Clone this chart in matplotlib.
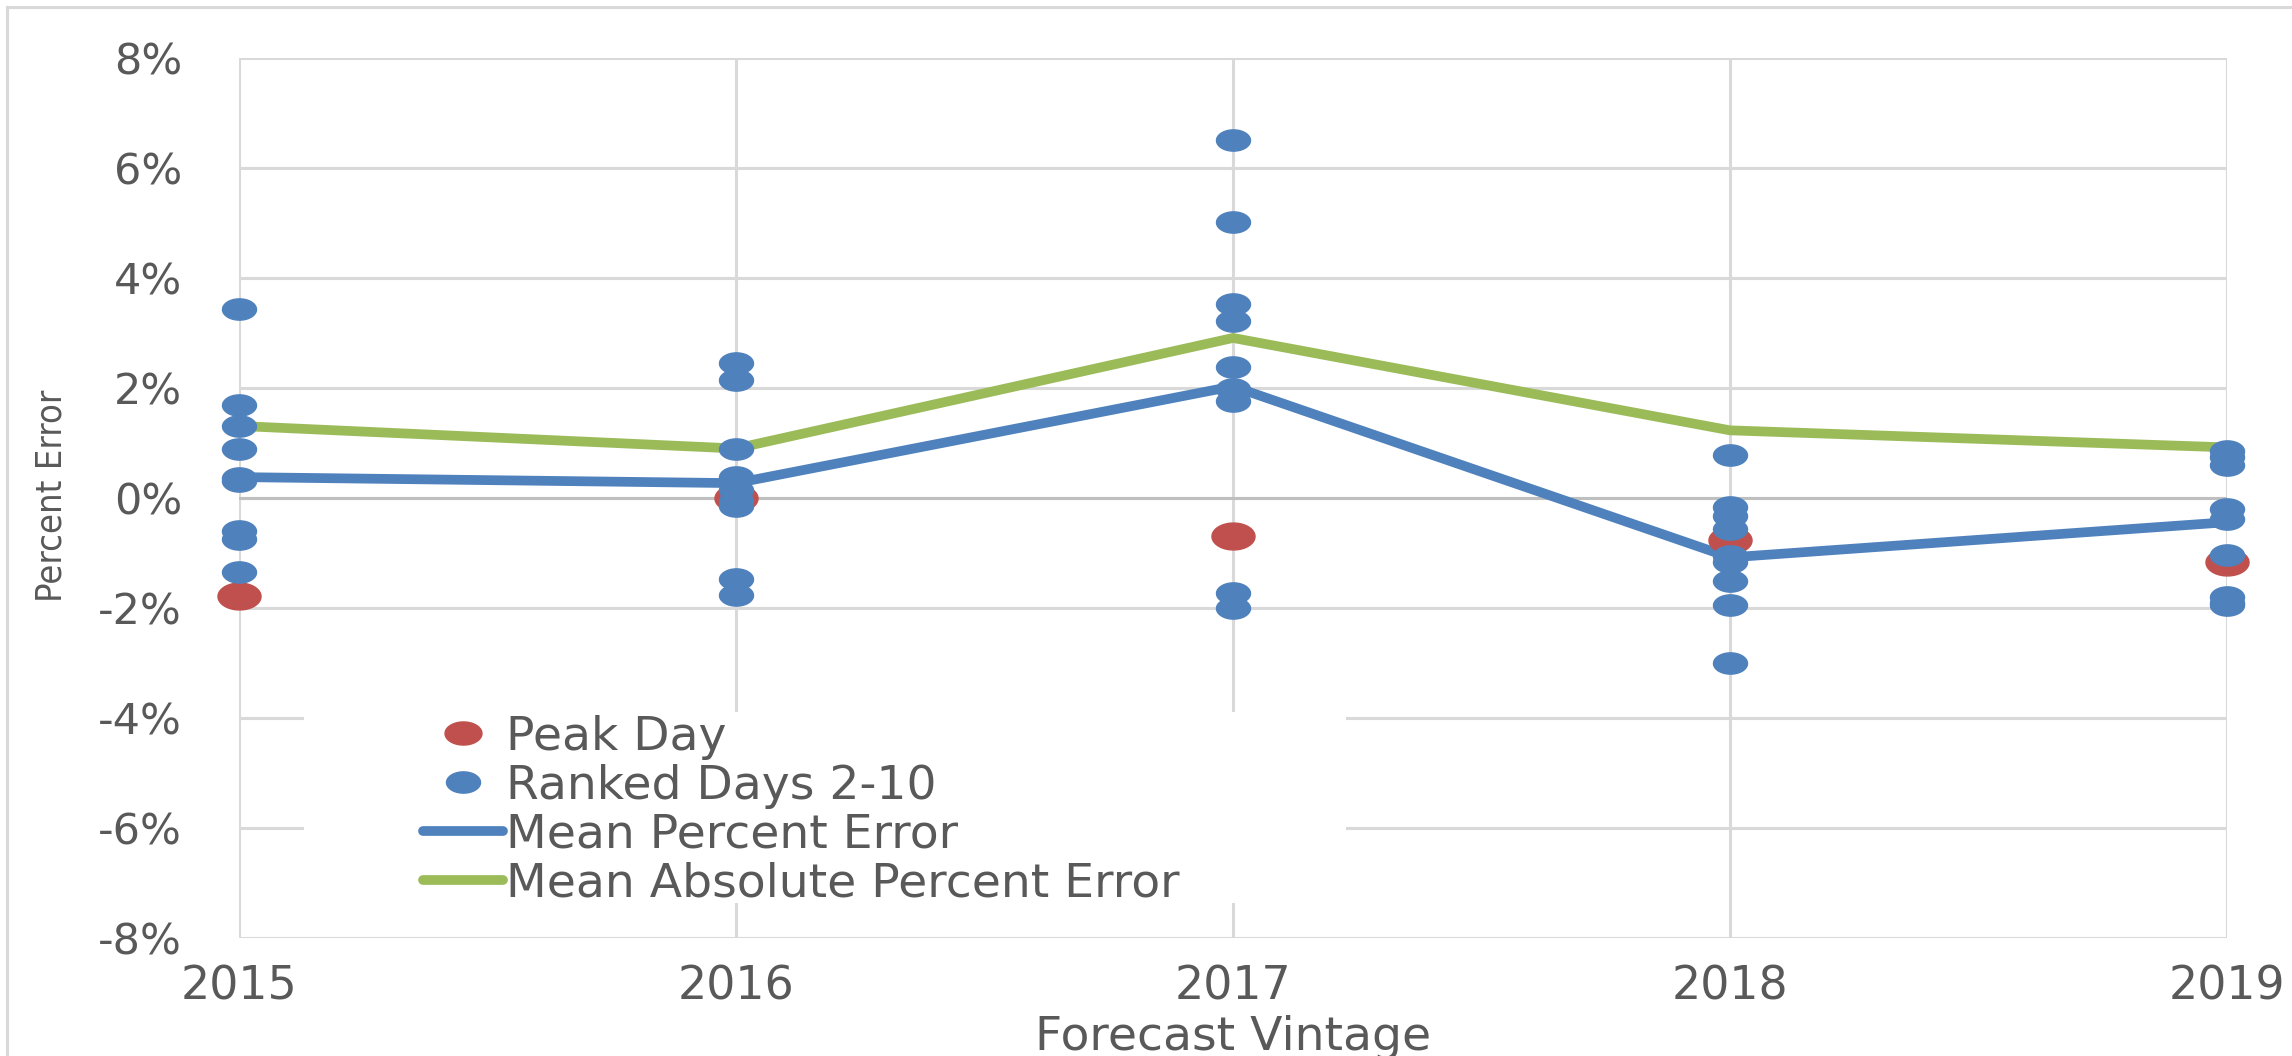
import matplotlib

matplotlib.use("Agg")
import matplotlib.pyplot as plt
from matplotlib.lines import Line2D
from matplotlib.patches import Rectangle
from matplotlib.path import Path
from matplotlib.ticker import FuncFormatter
import numpy as np

plt.rcParams["font.family"] = ["DejaVu Sans"]

years = [2015, 2016, 2017, 2018, 2019]
peak_day = [-1.79, 0.0, -0.69, -0.77, -1.17]
ranked_days = {
    2015: [3.43, 1.69, 1.31, 0.885, 0.36, 0.31, -0.6, -0.75, -1.35],
    2016: [2.45, 2.15, 0.885, 0.39, 0.15, -0.05, -0.15, -1.48, -1.76],
    2017: [6.51, 5.01, 3.53, 3.21, 2.39, 1.98, 1.77, -1.73, -2.0],
    2018: [0.79, -0.17, -0.32, -0.56, -1.05, -1.17, -1.5, -1.94, -3.0],
    2019: [0.86, 0.74, 0.6, -0.2, -0.38, -1.03, -1.8, -1.9, -1.95],
}
mean_pct_error = [0.38, 0.27, 2.03, -1.08, -0.44]
mean_abs_pct_error = [1.31, 0.90, 2.91, 1.23, 0.92]

BLUE = "#4F81BD"
RED = "#C0504D"
GREEN = "#9BBB59"
GRID = "#D9D9D9"
TEXT = "#595959"

# markers in the source are squashed circles
t = np.linspace(0, 2 * np.pi, 60)
ellipse = Path(np.column_stack([np.cos(t), np.sin(t) / 1.6]), closed=True)

W, H = 2292, 1056
fig = plt.figure(figsize=(W / 100, H / 100), dpi=100)
ax = fig.add_axes([239 / W, 1 - 938 / H, (2227 - 239) / W, (938 - 58) / H])

ax.plot(years, mean_abs_pct_error, color=GREEN, lw=7, solid_joinstyle="miter",
        clip_on=False, zorder=2)
ax.plot(years, mean_pct_error, color=BLUE, lw=7, solid_joinstyle="miter",
        clip_on=False, zorder=2.1)
ax.plot(years, peak_day, ls="none", marker=ellipse, ms=31, color=RED,
        clip_on=False, zorder=3)
rx = [y for y in years for _ in ranked_days[y]]
ry = [v for y in years for v in ranked_days[y]]
ax.plot(rx, ry, ls="none", marker=ellipse, ms=24.5, color=BLUE,
        clip_on=False, zorder=4)

ax.set_xlim(2015, 2019)
ax.set_ylim(-8, 8)
ax.set_xticks(years)
ax.set_yticks(range(-8, 9, 2))
ax.yaxis.set_major_formatter(FuncFormatter(lambda v, p: f"{int(v)}%"))
ax.grid(True, color=GRID, lw=2.2)
ax.axhline(0, color="#BFBFBF", lw=2.2, zorder=1.55)
for s in ax.spines.values():
    s.set_visible(False)
ax.tick_params(axis="both", length=0, colors=TEXT)
ax.tick_params(axis="y", labelsize=31, pad=41)
ax.tick_params(axis="x", labelsize=33, pad=19)

# white block behind the legend hides the gridlines
ax.add_patch(Rectangle((0.0327, 0.0398), 0.5241, 0.217, transform=ax.transAxes,
                       facecolor="white", edgecolor="none", zorder=1.6))

handles = [
    Line2D([], [], ls="none", marker=ellipse, ms=26.6, color=RED),
    Line2D([], [], ls="none", marker=ellipse, ms=24.5, color=BLUE),
    Line2D([], [], color=BLUE, lw=7, solid_capstyle="round"),
    Line2D([], [], color=GREEN, lw=7, solid_capstyle="round"),
]
labels = ["Peak Day", "Ranked Days 2-10", "Mean Percent Error",
          "Mean Absolute Percent Error"]
leg = fig.legend(handles, labels, loc="upper left",
                 bbox_to_anchor=(423 / W, 1 - 715 / H), frameon=False,
                 fontsize=34, handlelength=1.7, handletextpad=0.05,
                 labelspacing=0.08, borderpad=0, borderaxespad=0)
for txt in leg.get_texts():
    txt.set_color(TEXT)

fig.text(1233 / W, 1 - 1038 / H, "Forecast Vintage", ha="center", va="center",
         fontsize=34, color=TEXT)
fig.text(52 / W, 1 - 496 / H, "Percent Error", ha="center", va="center",
         rotation=90, fontsize=26, color=TEXT, fontstretch="condensed",
         family=["DejaVu Sans"])

# outer chart border (only top and left edges are inside the picture)
fig.add_artist(Line2D([7 / W, 7 / W], [0, 1 - 7 / H], transform=fig.transFigure,
                      color=GRID, lw=2.2))
fig.add_artist(Line2D([7 / W, 1], [1 - 7 / H, 1 - 7 / H], transform=fig.transFigure,
                      color=GRID, lw=2.2))

fig.savefig("out.png", dpi=100)
